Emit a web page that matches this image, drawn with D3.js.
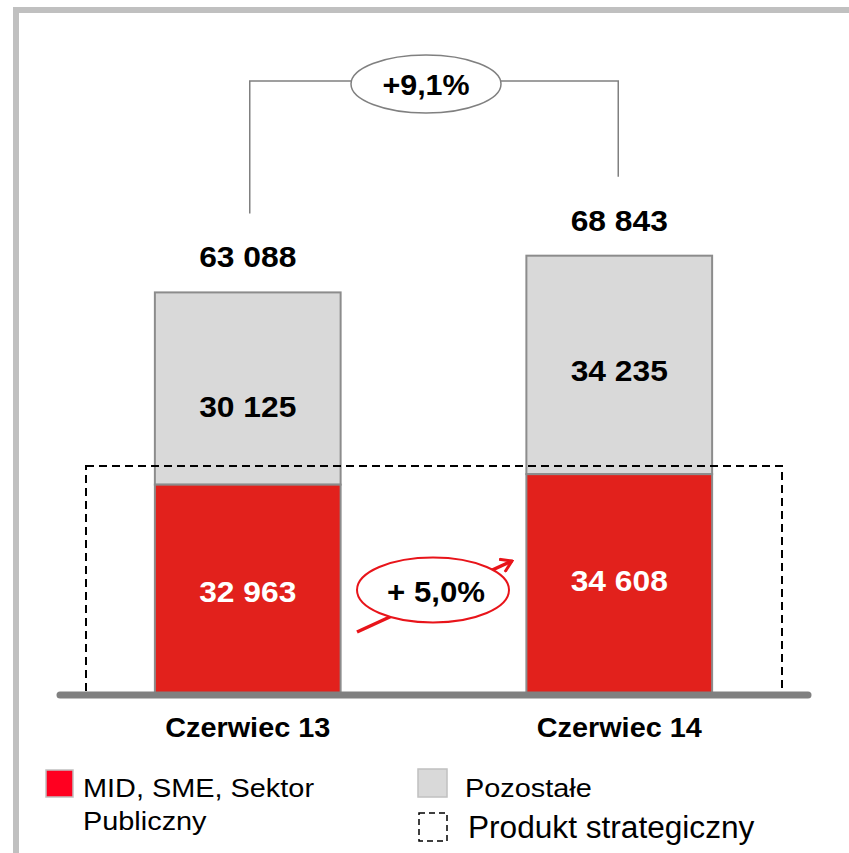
<!DOCTYPE html>
<html>
<head>
<meta charset="utf-8">
<script src="https://cdn.jsdelivr.net/npm/d3@7"></script>
<style>
  body { margin: 0; background: #fff; }
  text { font-family: "Liberation Sans", Arial, sans-serif; }
</style>
</head>
<body>
<div id="chart"></div>
<script>
// data
const categories = ["Czerwiec 13", "Czerwiec 14"];
const midSme = [32963, 34608];
const pozostale = [30125, 34235];
const totals = [63088, 68843];
const totalGrowth = "+9,1%";
const midGrowth = "+ 5,0%";
const legendLabels = [["MID, SME, Sektor", "Publiczny"], ["Pozostałe"], ["Produkt strategiczny"]];

const fmt = v => d3.format(",")(v).replace(/,/g, " ");

const W = 849, H = 853;
const baseY = 695;

const svg = d3.select("#chart").append("svg")
  .attr("width", W)
  .attr("height", H);

// frame (top + left)
svg.append("path")
  .attr("d", `M16,${H} L16,10 L${W},10`)
  .attr("fill", "none")
  .attr("stroke", "#c0c0c0")
  .attr("stroke-width", 6);

const x = d3.scaleBand()
  .domain(categories)
  .range([62, 805])
  .paddingInner(0.5)
  .paddingOuter(0.25);

const y = d3.scaleLinear()
  .domain([0, 70000])
  .range([baseY, baseY - 446.7]);

const rows = categories.map((c, i) => ({cat: c, mid: midSme[i], other: pozostale[i], total: totals[i]}));

// grey segment
svg.append("g")
  .selectAll("rect")
  .data(rows)
  .join("rect")
  .attr("x", d => x(d.cat))
  .attr("width", x.bandwidth())
  .attr("y", d => y(d.total))
  .attr("height", d => y(d.mid) - y(d.total))
  .attr("fill", "#d9d9d9")
  .attr("stroke", "#8c8c8c")
  .attr("stroke-width", 2);

// red segment
svg.append("g")
  .selectAll("rect")
  .data(rows)
  .join("rect")
  .attr("x", d => x(d.cat))
  .attr("width", x.bandwidth())
  .attr("y", d => y(d.mid))
  .attr("height", d => y(0) - y(d.mid))
  .attr("fill", "#e2211c")
  .attr("stroke", "#8c8c8c")
  .attr("stroke-width", 2);

// strategic product dashed box
svg.append("rect")
  .attr("x", 86)
  .attr("y", 466)
  .attr("width", 782 - 86)
  .attr("height", baseY - 466)
  .attr("fill", "none")
  .attr("stroke", "#000")
  .attr("stroke-width", 2)
  .attr("stroke-dasharray", "8,5");

// baseline
svg.append("line")
  .attr("x1", 60).attr("x2", 808)
  .attr("y1", baseY).attr("y2", baseY)
  .attr("stroke", "#808080")
  .attr("stroke-width", 7)
  .attr("stroke-linecap", "round");

// text helper, the original font runs a bit wide
function label(g, xx, yy, txt, size, sx, opts = {}) {
  const t = g.append("text")
    .attr("transform", `translate(${xx},${yy}) scale(${sx},1)`)
    .attr("text-anchor", opts.anchor || "start")
    .attr("fill", opts.fill || "#000")
    .style("font-size", size + "px")
    .style("font-weight", opts.bold ? "bold" : "normal")
    .text(txt);
  return t;
}

// value labels
const cx = d => x(d.cat) + x.bandwidth() / 2;
const vals = svg.append("g");
rows.forEach(d => {
  label(vals, cx(d), y(d.total) - 25, fmt(d.total), 30, 1.06, {anchor: "middle", bold: true});
  label(vals, cx(d), y(d.total) + 125, fmt(d.other), 30, 1.06, {anchor: "middle", bold: true});
  label(vals, cx(d), y(d.mid) + 117, fmt(d.mid), 30, 1.06, {anchor: "middle", bold: true, fill: "#fff"});
  label(vals, cx(d), 737, d.cat, 28, 1.03, {anchor: "middle", bold: true});
});

// total growth bracket
const bx1 = cx(rows[0]) + 2, bx2 = cx(rows[1]) - 1, by = 81;
svg.append("path")
  .attr("d", `M${bx1},${y(rows[0].total) - 79} L${bx1},${by} L${bx2},${by} L${bx2},${y(rows[1].total) - 79}`)
  .attr("fill", "none")
  .attr("stroke", "#808080")
  .attr("stroke-width", 1.5);

svg.append("ellipse")
  .attr("cx", 426).attr("cy", 84)
  .attr("rx", 75).attr("ry", 29)
  .attr("fill", "#fff")
  .attr("stroke", "#808080")
  .attr("stroke-width", 1.5);

label(svg, 426, 95, totalGrowth, 29, 1.05, {anchor: "middle", bold: true});

// mid growth arrow + bubble
svg.append("defs").append("marker")
  .attr("id", "head")
  .attr("viewBox", "-12 -8 14 16")
  .attr("markerWidth", 14).attr("markerHeight", 16)
  .attr("markerUnits", "userSpaceOnUse")
  .attr("orient", "auto")
  .append("path")
  .attr("d", "M-11,-7 L0,0 L-11,7")
  .attr("fill", "none")
  .attr("stroke", "#e8141a")
  .attr("stroke-width", 3);

svg.append("line")
  .attr("x1", 357).attr("y1", 632)
  .attr("x2", 512).attr("y2", 561)
  .attr("stroke", "#e8141a")
  .attr("stroke-width", 3.5)
  .attr("marker-end", "url(#head)");

svg.append("ellipse")
  .attr("cx", 433).attr("cy", 590)
  .attr("rx", 76).attr("ry", 32.5)
  .attr("fill", "#fff")
  .attr("stroke", "#e8141a")
  .attr("stroke-width", 2);

label(svg, 436, 602, midGrowth, 30, 1.04, {anchor: "middle", bold: true});

// legend
const lg = svg.append("g");
lg.append("rect")
  .attr("x", 46).attr("y", 770).attr("width", 27).attr("height", 27)
  .attr("fill", "#ff0020").attr("stroke", "#c0c0c0").attr("stroke-width", 1.5);
legendLabels[0].forEach((t, i) => label(lg, 83, 797 + i * 33, t, 26.5, 1.09));

lg.append("rect")
  .attr("x", 418).attr("y", 769).attr("width", 29).attr("height", 28)
  .attr("fill", "#d9d9d9").attr("stroke", "#c0c0c0").attr("stroke-width", 1.5);
label(lg, 465, 797, legendLabels[1][0], 26.5, 1.09);

lg.append("rect")
  .attr("x", 419).attr("y", 813).attr("width", 28).attr("height", 28)
  .attr("fill", "none").attr("stroke", "#000").attr("stroke-width", 1.5)
  .attr("stroke-dasharray", "6,4");
label(lg, 468, 838, legendLabels[2][0], 31, 1.02);
</script>
</body>
</html>
